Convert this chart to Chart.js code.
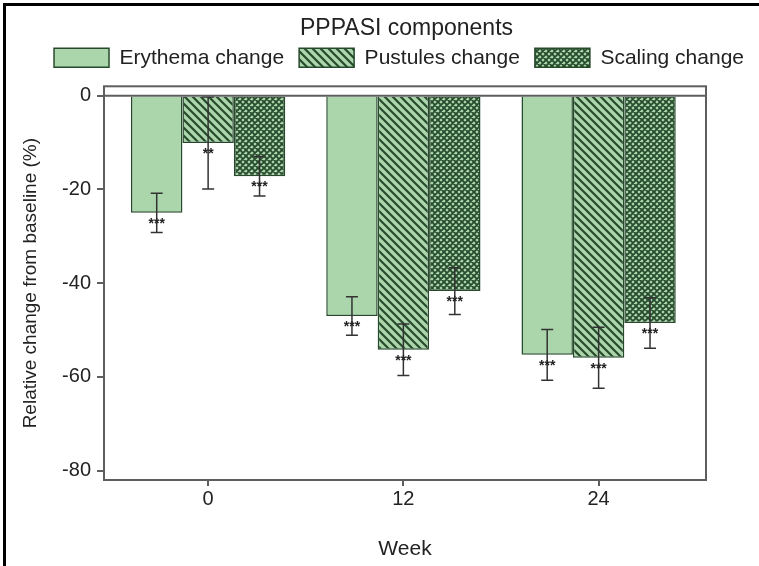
<!DOCTYPE html>
<html>
<head>
<meta charset="utf-8">
<script src="https://cdn.jsdelivr.net/npm/chart.js@4.4.1/dist/chart.umd.min.js"></script>
<style>
  html, body { margin: 0; padding: 0; background: #fff; }
  #wrap { width: 759px; height: 566px; }
</style>
</head>
<body>
<div id="wrap"><canvas id="pppasi" width="759" height="566"></canvas></div>
<script>
// weeks on the x axis
const weeks = [0, 12, 24];
const weekLabels = ['0', '12', '24'];
const yTicks = [0, -20, -40, -60, -80];

// mean relative change (%) and error half-widths
const erythema = [-25.0, -47.0, -55.3];
const erythemaErr = [4.2, 4.1, 5.4];
const pustules = [-10.1, -54.2, -55.9];
const pustulesErr = [9.8, 5.5, 6.5];
const scaling = [-17.2, -41.7, -48.5];
const scalingErr = [4.2, 5.0, 5.4];

// significance marks under each bar
const erythemaSig = ['***', '***', '***'];
const pustulesSig = ['**', '***', '***'];
const scalingSig = ['***', '***', '***'];

const FILL = '#abd5ab';
const EDGE = '#274a2c';
const FONT = "'Liberation Sans', Arial, sans-serif";

function hatch(size, width, cross) {
   const c = document.createElement('canvas');
   c.width = size; c.height = size;
   const g = c.getContext('2d');
   g.fillStyle = FILL;
   g.fillRect(0, 0, size, size);
   g.strokeStyle = EDGE;
   g.lineWidth = width;
   g.beginPath();
   for (const k of [-size, 0, size]) {
      g.moveTo(-1, -1 + k); g.lineTo(size + 1, size + 1 + k);
      if (cross) { g.moveTo(-1, size + 1 + k); g.lineTo(size + 1, -1 + k); }
   }
   g.stroke();
   return g.createPattern(c, 'repeat');
}

const toPoints = vals => vals.map((v, i) => ({ x: weeks[i], y: v }));

const frame = {
   id: 'frame',
   beforeDraw(chart) {
      const ctx = chart.ctx;
      ctx.save();
      ctx.fillStyle = '#000';
      ctx.fillRect(3, 3, 756, 3);
      ctx.fillRect(3, 3, 3, 563);
      ctx.restore();
   },
   afterDraw(chart) {
      const { ctx, chartArea: a, scales } = chart;
      ctx.save();
      ctx.strokeStyle = '#5e5e5e';
      ctx.lineWidth = 2;
      ctx.strokeRect(a.left, a.top, a.right - a.left, a.bottom - a.top);
      const y0 = scales.y.getPixelForValue(0);
      ctx.beginPath();
      ctx.moveTo(a.left, y0); ctx.lineTo(a.right, y0);
      ctx.stroke();
      ctx.restore();
   }
};

const errorBars = {
   id: 'errorBars',
   afterDatasetsDraw(chart) {
      const { ctx, scales } = chart;
      ctx.save();
      chart.data.datasets.forEach((ds, i) => {
         const meta = chart.getDatasetMeta(i);
         meta.data.forEach((bar, j) => {
            const v = ds.data[j].y, e = ds.errors[j];
            const top = scales.y.getPixelForValue(v + e);
            const bot = scales.y.getPixelForValue(v - e);
            ctx.strokeStyle = '#333';
            ctx.lineWidth = 1.5;
            ctx.beginPath();
            ctx.moveTo(bar.x, top); ctx.lineTo(bar.x, bot);
            ctx.moveTo(bar.x - 6, top); ctx.lineTo(bar.x + 6, top);
            ctx.moveTo(bar.x - 6, bot); ctx.lineTo(bar.x + 6, bot);
            ctx.stroke();
            ctx.fillStyle = '#222';
            ctx.font = 'bold 14px ' + FONT;
            ctx.textAlign = 'center';
            ctx.textBaseline = 'middle';
            ctx.fillText(ds.sig[j], bar.x, bar.y + 11);
         });
      });
      ctx.restore();
   }
};

new Chart(document.getElementById('pppasi'), {
   type: 'bar',
   data: {
      datasets: [{
         label: 'Erythema change',
         data: toPoints(erythema),
         errors: erythemaErr,
         sig: erythemaSig,
         backgroundColor: FILL,
         borderColor: EDGE,
         borderWidth: 1.5
      }, {
         label: 'Pustules change',
         data: toPoints(pustules),
         errors: pustulesErr,
         sig: pustulesSig,
         backgroundColor: hatch(8, 2.2, false),
         borderColor: EDGE,
         borderWidth: 1.5
      }, {
         label: 'Scaling change',
         data: toPoints(scaling),
         errors: scalingErr,
         sig: scalingSig,
         backgroundColor: hatch(6, 1.8, true),
         borderColor: EDGE,
         borderWidth: 1.5
      }]
   },
   options: {
      responsive: false,
      animation: false,
      layout: { padding: { left: 28, right: 0, top: 10, bottom: 0 } },
      datasets: { bar: { categoryPercentage: 0.79, barPercentage: 1 } },
      plugins: {
         tooltip: { enabled: false },
         legend: {
            position: 'top',
            align: 'end',
            title: {
               display: true,
               text: 'PPPASI components',
               color: '#222',
               font: { family: FONT, size: 23, lineHeight: 1.1 },
               padding: { top: 7, bottom: -10 }
            },
            labels: {
               boxWidth: 55,
               boxHeight: 19,
               padding: 15,
               color: '#222',
               font: { family: FONT, size: 21 }
            }
         }
      },
      scales: {
         x: {
            type: 'linear',
            min: -6.4,
            max: 30.6,
            offset: false,
            afterBuildTicks: s => { s.ticks = weeks.map(v => ({ value: v })); },
            afterFit: s => { s.height = 86; },
            ticks: {
               callback: (v) => weekLabels[weeks.indexOf(v)],
               color: '#222',
               padding: 1,
               font: { family: FONT, size: 20 }
            },
            grid: { offset: false, drawOnChartArea: false, drawTicks: true, tickLength: 6, color: '#5e5e5e', lineWidth: 2 },
            border: { display: false },
            title: {
               display: true,
               text: 'Week',
               color: '#222',
               font: { family: FONT, size: 21 },
               padding: { top: 0, bottom: 4 }
            }
         },
         y: {
            min: -82,
            max: 2,
            afterBuildTicks: s => { s.ticks = yTicks.map(v => ({ value: v })); },
            afterFit: s => { s.width = 76; },
            ticks: {
               color: '#222',
               padding: 6,
               font: { family: FONT, size: 20 }
            },
            grid: { drawOnChartArea: false, tickLength: 7, color: '#5e5e5e', lineWidth: 2 },
            border: { display: false },
            title: {
               display: true,
               text: 'Relative change from baseline (%)',
               color: '#222',
               font: { family: FONT, size: 19 },
               padding: { top: -9, bottom: 0 }
            }
         },
         // empty axes that only keep the white margins above and right of the plot
         top: {
            position: 'top',
            afterFit: s => { s.height = 8; },
            ticks: { display: false },
            grid: { display: false },
            border: { display: false }
         },
         right: {
            position: 'right',
            afterFit: s => { s.width = 53; },
            ticks: { display: false },
            grid: { display: false },
            border: { display: false }
         }
      }
   },
   plugins: [frame, errorBars]
});
</script>
</body>
</html>
